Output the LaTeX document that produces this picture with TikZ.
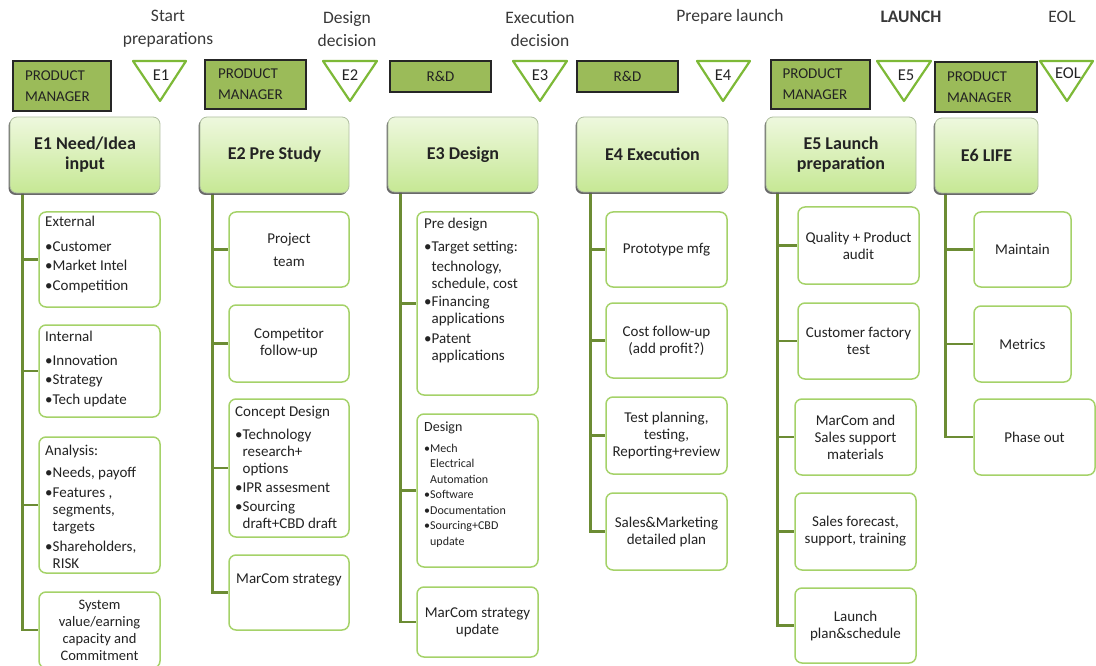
\documentclass[tikz,border=0pt]{standalone}
\usepackage{fontspec}
\setmainfont{Carlito}
\usetikzlibrary{shadows,backgrounds}

\definecolor{rolegreen}{RGB}{155,187,89}
\definecolor{gategreen}{RGB}{125,185,55}
\definecolor{linkgreen}{RGB}{108,140,52}
\definecolor{childedge}{RGB}{165,210,105}
\definecolor{phasetop}{RGB}{238,248,222}
\definecolor{phasebot}{RGB}{198,232,148}
\definecolor{phaseedge}{RGB}{175,190,160}
\definecolor{inktext}{RGB}{35,35,35}

% box given by its corners (x1,y1) (x2,y2), y growing downwards
\newcommand\pxbox[6][]{\node[#1, minimum width={#5pt-#3pt}, minimum height={#6pt-#4pt}] (#2) at ({(#3+#5)/2},{(#4+#6)/2})}

\tikzset{
  every node/.style={text=inktext, inner sep=0pt},
  hdr/.style={font=\fontsize{17.5}{23}\selectfont, align=center, text=black!78},
  rolebox/.style={draw=black!85, line width=1.1pt, fill=rolegreen, align=left,
    font=\fontsize{15}{21}\selectfont,
    drop shadow={shadow xshift=-1.2pt, shadow yshift=-1.5pt, fill=black!70, opacity=0.9}},
  gate/.style={draw=gategreen, line width=2.2pt, fill=white, line join=round},
  gatelabel/.style={font=\fontsize{16.5}{18}\selectfont},
  phase/.style={draw=phaseedge, line width=0.8pt, rounded corners=7pt,
    top color=phasetop, bottom color=phasebot, align=center,
    font=\bfseries\fontsize{18}{20}\selectfont,
    drop shadow={shadow xshift=-1.5pt, shadow yshift=-2pt, fill=black!65, opacity=0.9}},
  child/.style={draw=childedge, line width=1.5pt, rounded corners=7pt, fill=white,
    align=center, font=\fontsize{15}{17}\selectfont},
  childtext/.style={anchor=north west, align=left, font=\fontsize{15}{19.5}\selectfont},
  link/.style={draw=linkgreen, line width=2.6pt},
}

\begin{document}
\begin{tikzpicture}[x=1pt,y=-1pt]
\useasboundingbox (0,0) rectangle (1096,666);

% milestone captions
\node[hdr] (h1) at (168,29) {Start\\preparations};
\node[hdr] (h2) at (347,29) {Design\\decision};
\node[hdr] (h3) at (540,29) {Execution\\decision};
\node[hdr] (h4) at (730,17) {Prepare launch};
\node[hdr, font=\bfseries\fontsize{17.5}{23}\selectfont] (h5) at (911,17) {LAUNCH};
\node[hdr] (h6) at (1062,17) {EOL};

% responsible roles
\pxbox[rolebox, text width=74pt]{r1}{13}{61}{111}{111} {PRODUCT\\MANAGER};
\pxbox[rolebox, text width=75pt]{r2}{205}{60}{306}{109} {PRODUCT\\MANAGER};
\pxbox[rolebox, align=center]{r3}{390}{61}{491}{92} {R\&D};
\pxbox[rolebox, align=center]{r4}{577}{61}{678}{92} {R\&D};
\pxbox[rolebox, text width=76pt]{r5}{771}{60}{870}{109} {PRODUCT\\MANAGER};
\pxbox[rolebox, text width=78pt]{r6}{935}{62}{1037}{112} {PRODUCT\\MANAGER};

% decision gates
\draw[gate] (133,61) -- (186,61) -- (160,101) -- cycle;
\draw[gate] (323,61) -- (377,61) -- (350,101) -- cycle;
\draw[gate] (513,61) -- (567,61) -- (540,101) -- cycle;
\draw[gate] (697,61) -- (750,61) -- (723,101) -- cycle;
\draw[gate] (877,61) -- (931,61) -- (904,101) -- cycle;
\draw[gate] (1040,61) -- (1093,61) -- (1067,101) -- cycle;
\node[gatelabel] (g1) at (161,75) {E1};
\node[gatelabel] (g2) at (350,75) {E2};
\node[gatelabel] (g3) at (540,75) {E3};
\node[gatelabel] (g4) at (723,75) {E4};
\node[gatelabel] (g5) at (906,75) {E5};
\node[gatelabel] (g6) at (1068,73) {EOL};

% phases
\pxbox[phase]{p1}{10}{117}{160}{193} {E1 Need/Idea\\input};
\pxbox[phase]{p2}{200}{117}{349}{193} {E2 Pre Study};
\pxbox[phase]{p3}{388}{117}{538}{192} {E3 Design};
\pxbox[phase]{p4}{577}{117}{728}{192} {E4 Execution};
\pxbox[phase]{p5}{766}{117}{916}{192} {E5 Launch\\preparation};
\pxbox[phase]{p6}{935}{118}{1038}{193} {E6 LIFE};

% E1 activities
\pxbox[child]{a1}{39}{212}{160}{307} {};
\node[childtext] (ta1) at (45,216) {External\\[5pt]•Customer\\•Market Intel\\•Competition};
\pxbox[child]{a2}{39}{325}{160}{417} {};
\node[childtext] (ta2) at (45,331) {Internal\\[4pt]•Innovation\\•Strategy\\•Tech update};
\pxbox[child]{a3}{39}{437}{160}{573} {};
\node[childtext, font=\fontsize{15}{17}\selectfont] (ta3) at (45,445)
  {Analysis:\\[5pt]•Needs, payoff\\[3pt]•Features ,\\\phantom{•}segments,\\\phantom{•}targets\\[3pt]•Shareholders,\\\phantom{•}RISK};
\pxbox[child, font=\fontsize{14.5}{17}\selectfont]{a4}{39}{592}{160}{668} {System\\value/earning\\capacity and\\Commitment};

% E2 activities
\pxbox[child, font=\fontsize{15}{23}\selectfont]{b1}{229}{212}{349}{287} {Project\\team};
\pxbox[child]{b2}{229}{305}{349}{382} {Competitor\\follow-up};
\pxbox[child]{b3}{229}{399}{349}{537} {};
\node[childtext, font=\fontsize{15}{17}\selectfont] (tb3) at (235,406)
  {Concept Design\\[6pt]•Technology\\\phantom{•}research+\\\phantom{•}options\\[2pt]•IPR assesment\\[2pt]•Sourcing\\\phantom{•}draft+CBD draft};
\pxbox[child]{b4}{229}{555}{349}{630} {};
\node[childtext] (tb4) at (236,574) {MarCom strategy};

% E3 activities
\pxbox[child]{c1}{417}{212}{538}{395} {};
\node[childtext, font=\fontsize{15}{17}\selectfont] (tc1) at (424,218)
  {Pre design\\[6pt]•Target setting:\\[3pt]\phantom{•}technology,\\\phantom{•}schedule, cost\\[1pt]•Financing\\\phantom{•}applications\\[3pt]•Patent\\\phantom{•}applications};
\pxbox[child]{c2}{417}{414}{538}{567} {};
\node[childtext, font=\fontsize{12}{15.5}\selectfont] (tc2) at (424,422)
  {{\fontsize{14}{15.5}\selectfont Design}\\[5pt]•Mech\\\phantom{•}Electrical\\\phantom{•}Automation\\•Software\\•Documentation\\•Sourcing+CBD\\\phantom{•}update};
\pxbox[child]{c3}{417}{587}{538}{657} {MarCom strategy\\update};

% E4 activities
\pxbox[child]{d1}{606}{212}{727}{287} {Prototype mfg};
\pxbox[child]{d2}{606}{303}{727}{378} {Cost follow-up\\(add profit?)};
\pxbox[child]{d3}{606}{397}{727}{474} {Test planning,\\testing,\\Reporting+review};
\pxbox[child]{d4}{606}{493}{727}{570} {Sales\&Marketing\\detailed plan};

% E5 activities
\pxbox[child]{e1}{798}{207}{919}{284} {Quality + Product\\audit};
\pxbox[child]{e2}{798}{303}{919}{379} {Customer factory\\test};
\pxbox[child]{e3}{795}{399}{916}{475} {MarCom and\\Sales support\\materials};
\pxbox[child]{e4}{795}{493}{916}{570} {Sales forecast,\\support, training};
\pxbox[child]{e5}{795}{588}{916}{663} {Launch\\plan\&schedule};

% E6 activities
\pxbox[child]{f1}{974}{212}{1071}{287} {Maintain};
\pxbox[child]{f2}{974}{306}{1071}{382} {Metrics};
\pxbox[child]{f3}{974}{399}{1095}{475} {Phase out};

% phase-to-activity connectors
\begin{scope}[on background layer]
  \foreach \c in {a1,a2,a3,a4} \draw[link] ([xshift=13pt]p1.south west) |- (\c.west);
  \foreach \c in {b1,b2,b3,b4} \draw[link] ([xshift=13pt]p2.south west) |- (\c.west);
  \foreach \c in {c1,c2,c3} \draw[link] ([xshift=13pt]p3.south west) |- (\c.west);
  \foreach \c in {d1,d2,d3,d4} \draw[link] ([xshift=14pt]p4.south west) |- (\c.west);
  \foreach \c in {e1,e2,e3,e4,e5} \draw[link] ([xshift=12pt]p5.south west) |- (\c.west);
  \foreach \c in {f1,f2,f3} \draw[link] ([xshift=11pt]p6.south west) |- (\c.west);
\end{scope}
\end{tikzpicture}
\end{document}
